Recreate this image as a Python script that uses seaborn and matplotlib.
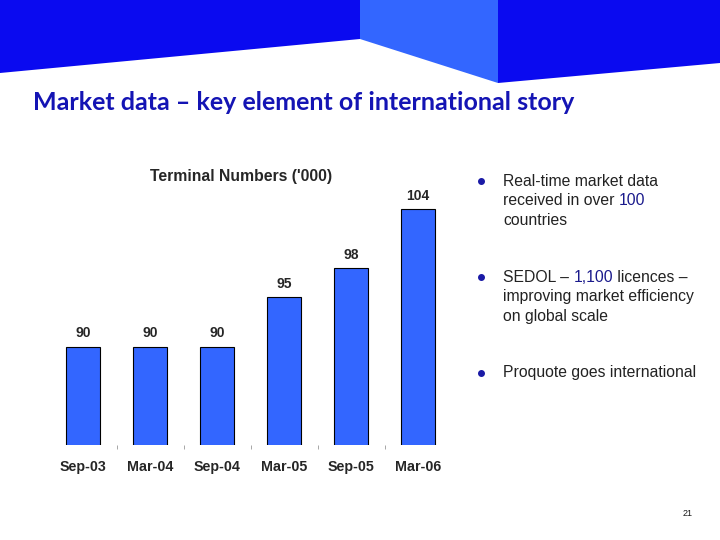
import matplotlib
matplotlib.use("Agg")
import matplotlib.pyplot as plt
import seaborn as sns
from matplotlib.patches import Polygon

# data
periods = ["Sep-03", "Mar-04", "Sep-04", "Mar-05", "Sep-05", "Mar-06"]
terminals = [90, 90, 90, 95, 98, 104]

bullets = [
    [[("Real-time market data", "k")],
     [("received in over ", "k"), ("100", "blue")],
     [("countries", "k")]],
    [[("SEDOL \u2013 ", "k"), ("1,100", "blue"), (" licences \u2013", "k")],
     [("improving market efficiency", "k")],
     [("on global scale", "k")]],
    [[("Proquote goes international", "k")]],
]

DARK = "#0a0af0"
LIGHT = "#3366ff"
BAR = "#3366ff"
TXT = "#222222"
NUM = "#1a1a8c"

sns.set_theme(style="white")
plt.rcParams["font.family"] = ["Liberation Sans", "DejaVu Sans"]

fig = plt.figure(figsize=(7.2, 5.4), dpi=100)
W, H = 720, 540

# header banner
bg = fig.add_axes([0, 0, 1, 1])
bg.set_xlim(0, W)
bg.set_ylim(H, 0)
bg.axis("off")
bg.add_patch(Polygon([(0, 0), (360, 0), (360, 39), (0, 73)], color=DARK, lw=0))
bg.add_patch(Polygon([(360, 0), (498, 0), (498, 83), (360, 39)], color=LIGHT, lw=0))
bg.add_patch(Polygon([(498, 0), (720, 0), (720, 63), (498, 83)], color=DARK, lw=0))
bg.text(33, 102, "Market data \u2013 key element of international story", color="#1414b4",
        fontsize=18, fontweight="bold", family=["Lato", "DejaVu Sans"], va="center")
bg.text(688, 514, "21", fontsize=6.5, ha="center", va="center", color="k")

# bar chart
ax = fig.add_axes([49.5 / W, (H - 445) / H, 402 / W, 246 / H])
sns.barplot(x=periods, y=terminals, color=BAR, width=0.5, edgecolor="black",
            linewidth=0.8, saturation=1, ax=ax)
ax.set_ylim(80, 105)
ax.set_xlim(-0.5, len(periods) - 0.5)
for i, v in enumerate(terminals):
    ax.annotate(str(v), (i, v), xytext=(0, 4.5), textcoords="offset points",
                ha="center", va="bottom", fontsize=10, fontweight="bold")
for s in ax.spines.values():
    s.set_visible(False)
ax.set_yticks([])
ax.set_xticks([x + 0.5 for x in range(len(periods) - 1)], minor=True)
ax.tick_params(axis="x", which="minor", length=3, width=0.6, color="#999999",
               bottom=True, direction="out")
ax.tick_params(axis="x", which="major", length=0, pad=11, labelsize=10.3)
for t in ax.get_xticklabels():
    t.set_fontweight("bold")
ax.set_xlabel("")
ax.set_ylabel("")
fig.text(241 / W, 1 - 177 / H, "Terminal Numbers ('000)", ha="center", va="center",
         fontsize=11.3, fontweight="bold")

# bullet text
fig.canvas.draw()
renderer = fig.canvas.get_renderer()
starts = [181, 277, 373]
for b, y0 in zip(bullets, starts):
    bg.plot([481], [y0], marker="o", color="#1a1aa6", markersize=4)
    for k, line in enumerate(b):
        x = 503
        y = y0 + k * 19.7
        for seg, col in line:
            t = bg.text(x, y, seg, color=TXT if col == "k" else NUM, fontsize=11.3,
                        va="center", ha="left")
            bb = t.get_window_extent(renderer)
            x += bb.width * W / fig.bbox.width

fig.savefig("out.png", dpi=100)
